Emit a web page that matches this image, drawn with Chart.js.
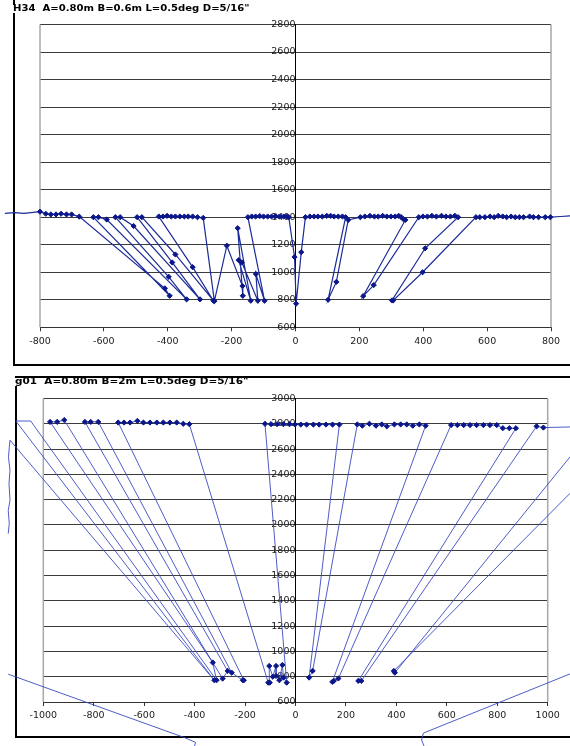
<!DOCTYPE html>
<html><head><meta charset="utf-8">
<script src="https://cdn.jsdelivr.net/npm/chart.js@4.4.1/dist/chart.umd.min.js"></script>
<style>
html,body{margin:0;padding:0;background:#fff;width:570px;height:746px;overflow:hidden;position:relative;}
.box{position:absolute;box-sizing:border-box;border:2px solid #000;}
.title{position:absolute;font-family:"DejaVu Sans";font-weight:bold;font-size:8px;line-height:8px;background:#fff;white-space:nowrap;transform-origin:0 0;color:#000;padding-right:2px}
canvas{position:absolute;left:0}
</style></head>
<body>
<div class="box" style="left:13px;top:-10px;width:620px;height:376px"></div>
<div class="box" style="left:15px;top:375.5px;width:620px;height:362px"></div>
<canvas id="c1" width="570" height="366" style="top:0"></canvas>
<canvas id="c2" width="570" height="376" style="top:370px"></canvas>
<div class="title" id="t1" style="left:13px;top:5px">H34&nbsp; A=0.80m B=0.6m L=0.5deg D=5/16"</div>
<div class="title" id="t2" style="left:15px;top:377.5px">g01&nbsp; A=0.80m B=2m L=0.5deg D=5/16"</div>
<script>
// ---- H34 trace (x, y) ----
const h34X = [-910,-880,-850,-800,-782,-766,-750,-734,-717,-701,-677,-409,-394,-633,-617,-591,-341,-397,-564,-549,-507,-299,-386,-496,-481,-376,-257,-322,-428,-415,-402,-389,-376,-362,-348,-336,-322,-307,-289,-254,-215,-166,-165,-181,-140,-178,-168,-118,-124,-97,-149,-137,-125,-112,-100,-87,-75,-62,-50,-37,-28,-21,-3,2,18,31,45,58,70,84,98,110,121,134,147,157,102,128,165,203,217,233,247,259,273,286,299,312,323,331,338,344,212,245,386,399,413,427,441,457,471,485,499,509,406,302,306,398,565,577,593,609,622,635,649,661,675,688,701,714,733,745,761,782,798,830,880];
const h34Y = [1428,1433,1428,1440,1425,1420,1420,1425,1420,1420,1404,883,829,1400,1400,1383,803,967,1400,1400,1336,803,1071,1400,1400,1129,793,1037,1405,1405,1410,1405,1405,1405,1405,1405,1405,1400,1395,790,1193,900,829,1320,793,1088,1071,793,987,793,1400,1405,1405,1408,1405,1405,1405,1408,1405,1405,1405,1400,1111,772,1146,1400,1405,1405,1405,1405,1410,1410,1405,1405,1405,1400,800,930,1380,1400,1405,1410,1405,1405,1410,1405,1405,1405,1410,1400,1385,1380,827,907,1400,1405,1405,1410,1405,1410,1405,1405,1410,1400,1174,795,795,1000,1400,1400,1400,1405,1400,1410,1405,1400,1405,1400,1400,1400,1405,1400,1400,1400,1400,1405,1412];
// ---- g01 trace (x, y); null = break in the trace ----
const g01X = [-398,-402,-396,-438,-1139,null,-1139,-1135,-1139,-1132,-1136,-1132,-1138,-1135,-1132,-322,-1109,-1050,-313,-328,-973,-945,-917,-289,-269,-835,-812,-782,-253,-209,-205,-703,-680,-656,-627,-603,-577,-550,-524,-498,-471,-445,-421,-108,-102,-104,-90,-77,-77,-64,-52,-48,-35,-121,-97,-73,-48,-24,-2,21,44,71,94,121,147,174,54,68,245,265,293,319,342,362,392,417,441,465,491,516,146,152,170,617,642,667,692,718,745,771,798,822,848,874,249,261,956,983,1090,1191,394,390,1357,1400,507,500,510,505];
const g01Y = [200,243,280,317,820,null,1932,2011,2115,2194,2329,2432,2535,2614,2670,772,2822,2822,772,912,2815,2815,2830,785,846,2815,2815,2815,832,772,772,2810,2810,2810,2823,2810,2810,2810,2810,2810,2810,2800,2797,753,753,885,800,885,806,772,893,793,753,2800,2797,2797,2797,2797,2794,2794,2794,2794,2794,2794,2794,2794,793,846,2795,2785,2800,2785,2795,2780,2795,2795,2795,2785,2795,2785,759,767,786,2790,2790,2790,2790,2790,2790,2790,2790,2765,2765,2765,767,767,2780,2770,2775,2790,832,846,2790,1073,354,300,250,180];
// ---- axes ----
const h34XRange = [-800, 800];
const h34YRange = [600, 2800];
const g01XRange = [-1000, 1000];
const g01YRange = [600, 3000];
const h34XTicks = [-800,-600,-400,-200,0,200,400,600,800];
const h34YTicks = [600,800,1000,1200,1400,1600,1800,2000,2200,2400,2600,2800];
const g01XTicks = [-1000,-800,-600,-400,-200,0,200,400,600,800,1000];
const g01YTicks = [600,800,1000,1200,1400,1600,1800,2000,2200,2400,2600,2800,3000];

const plotBorder = {
  id: 'plotBorder',
  beforeDatasetsDraw(chart) {
    const {ctx, chartArea: a} = chart;
    ctx.save();
    ctx.strokeStyle = '#a8a8a8';
    ctx.lineWidth = 1.5;
    ctx.beginPath();
    ctx.moveTo(a.left, a.top); ctx.lineTo(a.left, a.bottom);
    ctx.moveTo(a.right, a.top); ctx.lineTo(a.right, a.bottom);
    ctx.stroke();
    ctx.restore();
  }
};

const tickFont = {family: 'DejaVu Sans', size: 9.5};
const plain = v => String(v);

function makeChart(id, xs, ys, xr, yr, xt, yt, padding, axisH, lineColor, lineW) {
  const data = xs.map((x, i) => ({x: x, y: ys[i]}));
  return new Chart(document.getElementById(id), {
    type: 'scatter',
    data: {datasets: [{
      data: data,
      showLine: true,
      spanGaps: false,
      clip: false,
      borderColor: lineColor,
      borderWidth: lineW,
      backgroundColor: '#0a168a',
      pointBackgroundColor: '#0a168a',
      pointBorderColor: '#0a168a',
      pointBorderWidth: 1,
      pointStyle: 'rectRot',
      pointRadius: ctx => {
        const p = ctx.raw;
        return (p && p.x !== null && p.x >= xr[0] && p.x <= xr[1] && p.y >= yr[0] && p.y <= yr[1]) ? 2.6 : 0;
      },
      tension: 0
    }]},
    options: {
      responsive: false,
      animation: false,
      events: [],
      layout: {padding: padding},
      plugins: {legend: {display: false}, tooltip: {enabled: false}},
      scales: {
        x: {
          type: 'linear', position: 'bottom', min: xr[0], max: xr[1],
          afterBuildTicks: s => { s.ticks = xt.map(v => ({value: v})); },
          afterFit: s => { s.height = axisH; },
          grid: {drawOnChartArea: false, drawTicks: true, tickLength: 4, color: '#333'},
          border: {display: true, color: '#333', width: 1},
          ticks: {padding: 4.3, font: tickFont, color: '#1a1a1a', maxRotation: 0, autoSkip: false, callback: plain}
        },
        y: {
          type: 'linear', position: {x: 0}, min: yr[0], max: yr[1],
          afterBuildTicks: s => { s.ticks = yt.map(v => ({value: v})); },
          grid: {color: '#3c3c3c', lineWidth: 1, tickLength: 4},
          border: {display: true, color: '#000', width: 1},
          ticks: {padding: 3, font: tickFont, color: '#1a1a1a', autoSkip: false, callback: plain}
        }
      }
    },
    plugins: [plotBorder]
  });
}

makeChart('c1', h34X, h34Y, h34XRange, h34YRange, h34XTicks, h34YTicks,
  {left: 40, right: 19, top: 24.5, bottom: 0}, 38.7, '#1b2b98', 1.2);
makeChart('c2', g01X, g01Y, g01XRange, g01YRange, g01XTicks, g01YTicks,
  {left: 43.3, right: 22.3, top: 28.5, bottom: 0}, 44, '#3a4ac2', 0.9);

function fitTitle(id, w) {
  const el = document.getElementById(id);
  const r = el.getBoundingClientRect().width;
  el.style.transform = 'scaleX(' + (w / r) + ')';
}
fitTitle('t1', 239);
fitTitle('t2', 236);
</script>
</body></html>
